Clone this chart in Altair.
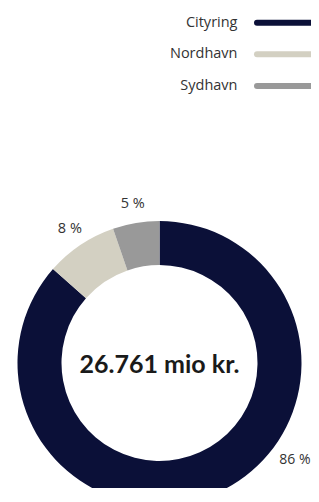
import altair as alt
import pandas as pd

categories = ["Cityring", "Nordhavn", "Sydhavn"]
shares = [86.5, 8.2, 5.3]
labels = ["86 %", "8 %", "5 %"]
colors = ["#0b1038", "#d3d0c2", "#999999"]
total_text = "26.761 mio kr."

df = pd.DataFrame({
    "category": categories,
    "share": shares,
    "label": labels,
    "idx": list(range(len(categories))),
})

CX, CY = 151.5, 355
FONT = "Open Sans"

color = alt.Color("category:N", scale=alt.Scale(domain=categories, range=colors), legend=None)
theta = alt.Theta("share:Q", stack=True)
order = alt.Order("idx:O")

base = alt.Chart(df)

arcs = base.mark_arc(outerRadius=142, innerRadius=98).encode(
    theta=theta, color=color, order=order,
    x=alt.value(CX), y=alt.value(CY),
)

lab_small = base.transform_calculate(
    t="datum.category == 'Cityring' ? '' : datum.label"
).mark_text(radius=161, fontSize=14.5, font=FONT, color="#333333", align="center", baseline="middle").encode(
    theta=theta, order=order, text="t:N",
    x=alt.value(CX), y=alt.value(CY),
)

lab_big = base.transform_calculate(
    t="datum.category == 'Cityring' ? datum.label : ''"
).mark_text(radius=166.5, thetaOffset=-0.525, fontSize=14, font=FONT, color="#333333", align="center", baseline="middle").encode(
    theta=theta, order=order, text="t:N",
    x=alt.value(CX), y=alt.value(CY),
)

center = alt.Chart(pd.DataFrame({"t": [total_text]})).mark_text(
    fontSize=25, fontWeight="bold", font="Lato", color="#1a1a1a", align="center", baseline="middle"
).encode(text="t:N", x=alt.value(CX), y=alt.value(CY + 2))

ypos = alt.Y("category:N", scale=alt.Scale(type="point", domain=categories, range=[14.7, 78], padding=0), axis=None)

leg_text = base.mark_text(fontSize=14.5, font=FONT, color="#333333", align="right", baseline="middle").encode(
    y=ypos, x=alt.value(229.5), text="category:N",
)
leg_line = base.mark_rule(strokeWidth=6, strokeCap="round").encode(
    y=ypos, x=alt.value(249), x2=alt.value(340), color=color,
)

chart = alt.layer(arcs, lab_small, lab_big, center, leg_text, leg_line).properties(
    width=303, height=480, autosize=alt.AutoSizeParams(type="none"), padding=0
).configure_view(stroke=None)

chart.save("out.html", embed_options={"renderer": "svg", "actions": False})
